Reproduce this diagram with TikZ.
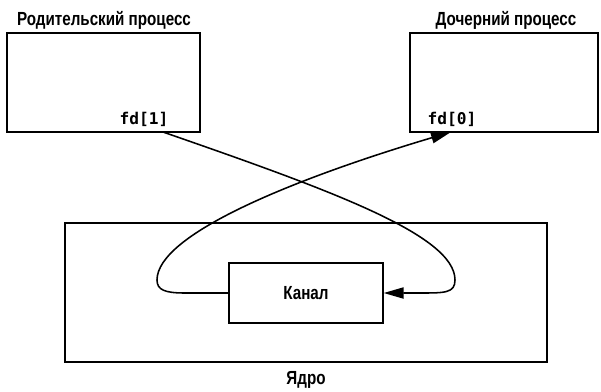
\documentclass[tikz,border=0pt]{standalone}
\usepackage{fontspec}
\setmainfont{Liberation Sans}[FakeStretch=0.8]
\setmonofont{DejaVu Sans Mono}
\usetikzlibrary{arrows.meta}
\tikzset{
  procbox/.style={draw,line width=1pt,inner sep=0pt,minimum height=2.475cm},
  title/.style={font=\fontsize{13.5}{15}\selectfont\bfseries,inner sep=0pt},
  fdlbl/.style={font=\fontsize{11.5}{13}\ttfamily\bfseries,inner sep=0pt},
  pipe/.style={line width=1.1pt,-{Triangle[length=5mm,width=2.8mm]}},
}
\begin{document}
\begin{tikzpicture}[x=0.025cm,y=-0.025cm]
  \useasboundingbox (0,0) rectangle (601,391);
  % processes
  \node[procbox,minimum width=4.825cm] (parent) at (103.5,82.5) {};
  \node[procbox,minimum width=4.7cm] (child) at (504,82.5) {};
  \node[title] (ptitle) at (104,20) {Родительский процесс};
  \node[title] (ctitle) at (506,20) {Дочерний процесс};
  \node[fdlbl] (fd1) at (144,119) {fd[1]};
  \node[fdlbl] (fd0) at (452,119) {fd[0]};
  % kernel
  \node[draw,line width=1pt,minimum width=12.05cm,minimum height=3.475cm] (kernel) at (306,292.5) {};
  \node[draw,line width=1pt,minimum width=3.85cm,minimum height=1.5cm,title] (pipe) at (306,293) {Канал};
  \node[title] (ktitle) at (306,380) {Ядро};
  \coordinate (w1) at (163,132);
  \coordinate (r0) at (451,132);
  % connectors
  \draw[pipe] (w1) .. controls (330,190) and (455,235) .. (455,280)
    .. controls (455,293) and (445,293) .. (420,293) -- (pipe.east);
  \draw[pipe] (pipe.west) -- (185,293) .. controls (165,293) and (157,290) .. (157,280)
    .. controls (157,235) and (290,180) .. (r0);
\end{tikzpicture}
\end{document}
